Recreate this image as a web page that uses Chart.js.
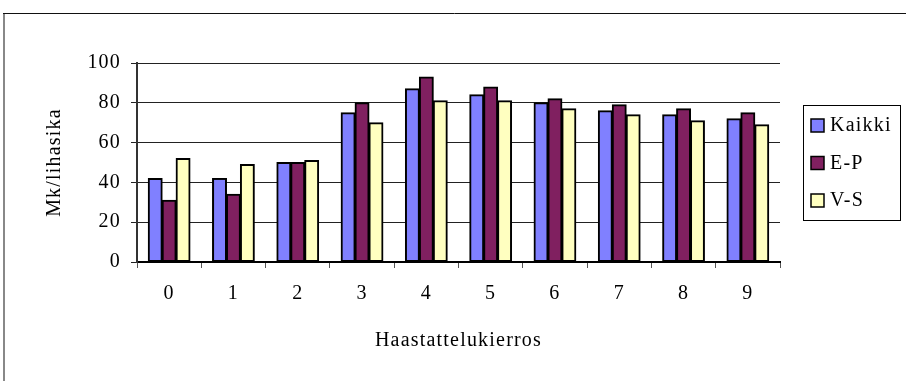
<!DOCTYPE html>
<html>
<head>
<meta charset="utf-8">
<script src="https://cdn.jsdelivr.net/npm/chart.js@4.4.0/dist/chart.umd.min.js"></script>
<style>
  html, body { margin: 0; padding: 0; background: #fff; }
  #wrap { width: 906px; height: 381px; position: relative; }
</style>
</head>
<body>
<div id="wrap"><canvas id="c" width="906" height="381"></canvas></div>
<script>
// Interview rounds and price per pig (Mk/lihasika) by group
const rounds = ['0', '1', '2', '3', '4', '5', '6', '7', '8', '9'];
const kaikki = [42, 42, 50, 75, 87, 84, 80, 76, 74, 72];
const ep     = [31, 34, 50, 80, 93, 88, 82, 79, 77, 75];
const vs     = [52, 49, 51, 70, 81, 81, 77, 74, 71, 69];
const yTicks = [0, 20, 40, 60, 80, 100];

const FONT = 'Liberation Serif, Times New Roman, serif';
const FSIZE = 20;
const SPACING = '1.2px';

// Slightly widened lettering for all chart text
const spacingPlugin = {
  id: 'spacing',
  beforeUpdate(chart) { chart.ctx.letterSpacing = SPACING; },
  beforeLayout(chart) { chart.ctx.letterSpacing = SPACING; },
  beforeDraw(chart) { chart.ctx.letterSpacing = SPACING; }
};

// Frame around the chart and a boxed legend on the right
const framePlugin = {
  id: 'frame',
  beforeDraw(chart) {
    const ctx = chart.ctx;
    ctx.save();
    ctx.fillStyle = '#fff';
    ctx.fillRect(0, 0, chart.width, chart.height);
    ctx.strokeStyle = '#888';
    ctx.lineWidth = 2;
    ctx.beginPath();
    ctx.moveTo(4, 13);
    ctx.lineTo(4, chart.height);
    ctx.stroke();
    ctx.strokeStyle = '#111';
    ctx.lineWidth = 1;
    ctx.beginPath();
    ctx.moveTo(3, 13.5);
    ctx.lineTo(chart.width, 13.5);
    ctx.stroke();
    ctx.restore();
  },
  afterDraw(chart) {
    const ctx = chart.ctx;
    const box = { x: 803.5, y: 105.5, w: 97, h: 115 };
    ctx.save();
    ctx.letterSpacing = SPACING;
    ctx.strokeStyle = '#000';
    ctx.lineWidth = 1;
    ctx.strokeRect(box.x, box.y, box.w, box.h);
    ctx.font = FSIZE + 'px ' + FONT;
    ctx.textBaseline = 'middle';
    chart.data.datasets.forEach((ds, i) => {
      const cy = 125 + i * 37.5;
      ctx.fillStyle = ds.backgroundColor;
      ctx.fillRect(811, cy - 6, 13, 13);
      ctx.strokeStyle = '#000';
      ctx.lineWidth = 1.5;
      ctx.strokeRect(811, cy - 6, 13, 13);
      ctx.fillStyle = '#000';
      ctx.fillText(ds.label, 830, cy + 1);
    });
    ctx.restore();
  }
};

new Chart(document.getElementById('c'), {
  type: 'bar',
  data: {
    labels: rounds,
    datasets: [
      { label: 'Kaikki', data: kaikki, backgroundColor: '#8080FF' },
      { label: 'E-P',    data: ep,     backgroundColor: '#802060' },
      { label: 'V-S',    data: vs,     backgroundColor: '#FFFFC0' }
    ]
  },
  options: {
    responsive: false,
    animation: false,
    devicePixelRatio: 1,
    layout: { padding: { left: 0, right: 126, top: 63, bottom: 0 } },
    datasets: {
      bar: {
        categoryPercentage: 0.65,
        barPercentage: 1.0,
        borderColor: '#000',
        borderWidth: 2,
        borderSkipped: false,
        inflateAmount: 0.5
      }
    },
    plugins: {
      legend: { display: false },
      tooltip: { enabled: false }
    },
    scales: {
      x: {
        grid: {
          offset: true,
          drawOnChartArea: false,
          drawTicks: true,
          tickLength: 6,
          color: '#555',
          lineWidth: 1
        },
        border: { display: true, color: '#000', width: 2 },
        ticks: {
          color: '#000',
          font: { family: FONT, size: FSIZE },
          padding: 14,
          maxRotation: 0
        },
        title: {
          display: true,
          text: 'Haastattelukierros',
          color: '#000',
          font: { family: FONT, size: FSIZE },
          padding: { top: 0, bottom: 28 }
        },
        afterFit(scale) { scale.height = 381 - 262; }
      },
      y: {
        min: 0,
        max: 100,
        afterBuildTicks(scale) { scale.ticks = yTicks.map(v => ({ value: v })); },
        grid: {
          color: '#222',
          lineWidth: 1,
          drawTicks: true,
          tickLength: 6
        },
        border: { display: true, color: '#333', width: 2 },
        ticks: {
          color: '#000',
          font: { family: FONT, size: FSIZE },
          padding: 10
        },
        title: {
          display: true,
          text: 'Mk/lihasika',
          color: '#000',
          font: { family: FONT, size: FSIZE },
          padding: { top: 43, bottom: 0 }
        },
        afterFit(scale) { scale.width = 137; }
      }
    }
  },
  plugins: [spacingPlugin, framePlugin]
});
</script>
</body>
</html>
